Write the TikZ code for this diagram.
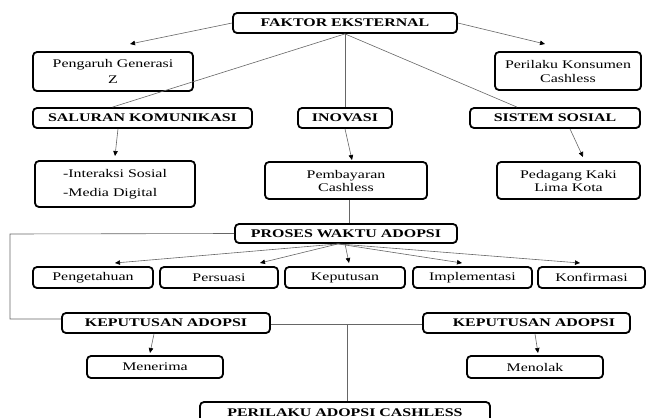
\documentclass[tikz,border=0pt]{standalone}
\usepackage{fontspec}
\setmainfont{Liberation Serif}[FakeStretch=1.36]
\usetikzlibrary{arrows.meta,calc}
\tikzset{
  box/.style={draw=black, line width=1.8pt, rounded corners=4pt, fill=white,
    inner sep=0pt, align=center, font=\fontsize{11.7}{14}\selectfont},
  hbox/.style={box, font=\fontsize{11.7}{14}\selectfont\bfseries},
  conn/.style={draw=black!60, line width=0.6pt},
  arr/.style={conn, -{Triangle[length=5pt,width=4.5pt,fill=black,color=black]}},
}
\begin{document}
\begin{tikzpicture}[x=1pt,y=-1pt]
\useasboundingbox (0,0) rectangle (649,418);
\clip (0,0) rectangle (649,418);
% boxes
\node[hbox, minimum width=224pt, minimum height=20pt] (fak) at (345,23) {FAKTOR EKSTERNAL};
\node[box, minimum width=160pt, minimum height=39pt, font=\fontsize{11.7}{16}\selectfont] (gen) at (113,71.5) {Pengaruh Generasi\\Z};
\node[box, minimum width=146pt, minimum height=38pt] (kon) at (568,71) {Perilaku Konsumen\\Cashless};
\node[hbox, minimum width=219pt, minimum height=20pt] (sal) at (142.5,118) {SALURAN KOMUNIKASI};
\node[hbox, minimum width=94pt, minimum height=20pt] (ino) at (345,118) {INOVASI};
\node[hbox, minimum width=170pt, minimum height=20pt] (sis) at (555,118) {SISTEM SOSIAL};
\node[box, minimum width=160pt, minimum height=46pt, align=left, font=\fontsize{11.7}{19}\selectfont] (int) at (115,184) {-Interaksi Sosial\\-Media Digital};
\node[box, minimum width=162pt, minimum height=37pt, font=\fontsize{11.7}{13}\selectfont] (pem) at (346,180.5) {Pembayaran\\Cashless};
\node[box, minimum width=143pt, minimum height=37pt, font=\fontsize{11.7}{13}\selectfont] (ped) at (568.5,180.5) {Pedagang Kaki\\Lima Kota};
\node[hbox, minimum width=222pt, minimum height=19pt] (pro) at (346,233.5) {PROSES WAKTU ADOPSI};
\node[box, minimum width=120pt, minimum height=21pt] (p1) at (93,277.5) {Pengetahuan};
\node[box, minimum width=118pt, minimum height=21pt] (p2) at (219,277.5) {Persuasi};
\node[box, minimum width=120pt, minimum height=21pt] (p3) at (345,277.5) {Keputusan};
\node[box, minimum width=119pt, minimum height=21pt] (p4) at (472.5,277.5) {Implementasi};
\node[box, minimum width=107pt, minimum height=21pt] (p5) at (591.5,277.5) {Konfirmasi};
\node[hbox, minimum width=208pt, minimum height=20pt] (kl) at (166,323) {KEPUTUSAN ADOPSI};
\node[hbox, minimum width=207pt, minimum height=20pt, text width=177pt, align=right] (kr) at (526.5,323) {KEPUTUSAN ADOPSI};
\node[box, minimum width=136pt, minimum height=22pt] (men) at (155,367) {Menerima};
\node[box, minimum width=136pt, minimum height=22pt] (tol) at (535,367) {Menolak};
\node[hbox, minimum width=290pt, minimum height=24pt, text height=4.5pt, text depth=0pt] (per) at (345,414) {PERILAKU ADOPSI CASHLESS};
% arrow tips (free ends)
\coordinate (genTip) at (130,44);
\coordinate (konTip) at (545,44);
\coordinate (intTip) at (115,156);
\coordinate (pemTip) at (352,160);
\coordinate (pedTip) at (583,157);
\coordinate (p1Tip) at (115,263);
\coordinate (p2Tip) at (260,263);
\coordinate (p3Tip) at (349,263);
\coordinate (p4Tip) at (462,263);
\coordinate (p5Tip) at (580,263);
\coordinate (menTip) at (150,353);
\coordinate (tolTip) at (538,353);
\coordinate (corTop) at (10,234);
\coordinate (corBot) at (10,319);
% connectors
\draw[arr] (fak.west) -- (genTip);
\draw[arr] (fak.east) -- (konTip);
\draw[conn] (fak.south) -- ([xshift=-30pt]sal.north);
\draw[conn] (fak.south) -- (ino.north);
\draw[conn] (fak.south) -- ([xshift=-38pt]sis.north);
\draw[arr] ([xshift=-24.5pt]sal.south) -- (intTip);
\draw[arr] (ino.south) -- (pemTip);
\draw[arr] ([xshift=15pt]sis.south) -- (pedTip);
\draw[conn] ([xshift=3pt]pem.south) -- ([xshift=3pt]pro.north);
\draw[arr] ([xshift=-8pt]pro.south) -- (p1Tip);
\draw[arr] ([xshift=-8pt]pro.south) -- (p2Tip);
\draw[arr] ([xshift=-1pt]pro.south) -- (p3Tip);
\draw[arr] ([xshift=-8pt]pro.south) -- (p4Tip);
\draw[arr] ([xshift=-8pt]pro.south) -- (p5Tip);
\draw[conn] (pro.west) -- (corTop) -- (corBot) -- (corBot -| kl.west);
\draw[conn] ([yshift=-1pt]kl.east) -- ([yshift=-1pt]kr.west);
\draw[conn] ([xshift=2pt,yshift=-1pt]per.north |- kl.east) -- ([xshift=2pt]per.north);
\draw[arr] ([xshift=-12pt]kl.south) -- (menTip);
\draw[arr] ([xshift=8.5pt]kr.south) -- (tolTip);
\end{tikzpicture}
\end{document}
